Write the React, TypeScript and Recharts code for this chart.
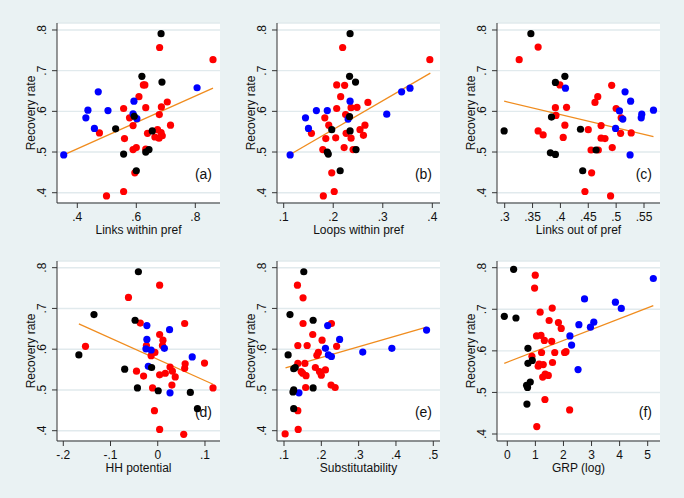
import React from 'react'
import { ScatterChart, Scatter, XAxis, YAxis, CartesianGrid, ReferenceLine, Label } from 'recharts'

// recovery rate vs. six network measures, grouped by colour
const yTicks = [0.4, 0.5, 0.6, 0.7, 0.8]

const aBlack = [[0.684, 0.791], [0.619, 0.686], [0.687, 0.672], [0.593, 0.588], [0.530, 0.557], [0.654, 0.552], [0.557, 0.495], [0.632, 0.500], [0.643, 0.506], [0.600, 0.454]]
const aBlue = [[0.354, 0.493], [0.471, 0.648], [0.436, 0.603], [0.429, 0.584], [0.504, 0.602], [0.458, 0.558], [0.592, 0.625], [0.589, 0.594], [0.602, 0.582], [0.806, 0.658]]
const aRed = [[0.679, 0.757], [0.860, 0.727], [0.624, 0.665], [0.629, 0.665], [0.609, 0.636], [0.705, 0.623], [0.557, 0.607], [0.632, 0.609], [0.685, 0.611], [0.678, 0.592], [0.577, 0.584], [0.589, 0.565], [0.716, 0.566], [0.475, 0.547], [0.638, 0.546], [0.672, 0.555], [0.684, 0.548], [0.663, 0.537], [0.677, 0.534], [0.688, 0.540], [0.560, 0.533], [0.600, 0.511], [0.589, 0.506], [0.632, 0.507], [0.595, 0.449], [0.499, 0.392], [0.557, 0.403]]
const aFit = [[0.354, 0.493], [0.860, 0.657]]

const bBlack = [[0.234, 0.791], [0.233, 0.686], [0.245, 0.672], [0.233, 0.587], [0.197, 0.555], [0.234, 0.552], [0.188, 0.500], [0.190, 0.495], [0.246, 0.506], [0.214, 0.454]]
const bBlue = [[0.113, 0.493], [0.144, 0.584], [0.150, 0.558], [0.166, 0.602], [0.188, 0.602], [0.234, 0.625], [0.230, 0.581], [0.308, 0.593], [0.338, 0.648], [0.355, 0.657]]
const bRed = [[0.219, 0.757], [0.395, 0.727], [0.207, 0.665], [0.223, 0.664], [0.215, 0.636], [0.270, 0.622], [0.207, 0.607], [0.236, 0.609], [0.248, 0.610], [0.225, 0.592], [0.183, 0.584], [0.191, 0.566], [0.264, 0.566], [0.156, 0.546], [0.226, 0.546], [0.254, 0.555], [0.261, 0.541], [0.205, 0.535], [0.236, 0.534], [0.185, 0.533], [0.222, 0.511], [0.179, 0.506], [0.240, 0.506], [0.197, 0.449], [0.180, 0.392], [0.202, 0.403]]
const bFit = [[0.113, 0.494], [0.396, 0.694]]

const cBlack = [[0.347, 0.791], [0.408, 0.686], [0.391, 0.671], [0.384, 0.586], [0.299, 0.552], [0.436, 0.556], [0.382, 0.498], [0.391, 0.494], [0.464, 0.505], [0.440, 0.454]]
const cBlue = [[0.409, 0.657], [0.516, 0.648], [0.526, 0.625], [0.506, 0.601], [0.512, 0.581], [0.567, 0.603], [0.545, 0.584], [0.546, 0.593], [0.499, 0.558], [0.525, 0.493]]
const cRed = [[0.360, 0.758], [0.326, 0.727], [0.399, 0.665], [0.492, 0.664], [0.467, 0.636], [0.462, 0.622], [0.391, 0.609], [0.411, 0.610], [0.500, 0.607], [0.392, 0.590], [0.509, 0.584], [0.408, 0.566], [0.473, 0.565], [0.360, 0.552], [0.450, 0.555], [0.369, 0.542], [0.508, 0.546], [0.527, 0.547], [0.405, 0.536], [0.473, 0.534], [0.480, 0.533], [0.493, 0.511], [0.455, 0.505], [0.468, 0.505], [0.456, 0.449], [0.444, 0.403], [0.490, 0.392]]
const cFit = [[0.299, 0.625], [0.567, 0.538]]

const dBlack = [[-0.041, 0.790], [-0.135, 0.685], [-0.048, 0.671], [-0.167, 0.586], [-0.070, 0.551], [-0.013, 0.555], [-0.043, 0.505], [0.001, 0.498], [0.069, 0.494], [0.084, 0.454]]
const dBlue = [[-0.023, 0.658], [0.025, 0.648], [-0.023, 0.624], [-0.025, 0.601], [-0.014, 0.598], [0.014, 0.602], [0.073, 0.581], [-0.020, 0.558], [0.026, 0.493]]
const dRed = [[0.004, 0.757], [-0.062, 0.727], [-0.037, 0.664], [0.057, 0.663], [0.004, 0.636], [0.011, 0.622], [0.010, 0.609], [-0.153, 0.607], [-0.024, 0.609], [-0.006, 0.592], [-0.014, 0.584], [0.058, 0.564], [0.099, 0.566], [-0.045, 0.546], [0.026, 0.556], [0.031, 0.546], [0.057, 0.553], [-0.030, 0.534], [0.004, 0.537], [0.016, 0.541], [0.037, 0.532], [0.030, 0.512], [-0.011, 0.505], [0.117, 0.505], [-0.007, 0.449], [0.004, 0.403], [0.055, 0.391]]
const dFit = [[-0.167, 0.662], [0.117, 0.514]]

const eBlack = [[0.153, 0.790], [0.116, 0.685], [0.178, 0.671], [0.111, 0.586], [0.126, 0.552], [0.130, 0.555], [0.178, 0.505], [0.124, 0.495], [0.126, 0.500], [0.126, 0.454]]
const eBlue = [[0.140, 0.493], [0.217, 0.658], [0.249, 0.624], [0.211, 0.602], [0.219, 0.586], [0.227, 0.582], [0.311, 0.593], [0.389, 0.602], [0.482, 0.647]]
const eRed = [[0.136, 0.757], [0.151, 0.726], [0.151, 0.663], [0.227, 0.663], [0.177, 0.636], [0.202, 0.622], [0.137, 0.609], [0.162, 0.609], [0.241, 0.607], [0.192, 0.592], [0.188, 0.585], [0.137, 0.565], [0.156, 0.565], [0.184, 0.555], [0.146, 0.545], [0.211, 0.549], [0.195, 0.545], [0.150, 0.541], [0.159, 0.535], [0.200, 0.536], [0.226, 0.512], [0.237, 0.506], [0.158, 0.506], [0.137, 0.449], [0.138, 0.403], [0.103, 0.392]]
const eFit = [[0.104, 0.554], [0.482, 0.654]]

const fBlack = [[0.225, 0.796], [-0.107, 0.683], [0.308, 0.679], [0.735, 0.606], [0.735, 0.570], [0.889, 0.577], [0.818, 0.525], [0.687, 0.517], [0.720, 0.512], [0.699, 0.472]]
const fBlue = [[5.20, 0.774], [2.75, 0.725], [3.85, 0.717], [4.06, 0.702], [2.55, 0.663], [3.08, 0.669], [2.96, 0.657], [2.23, 0.636], [2.29, 0.614], [2.52, 0.555]]
const fRed = [[0.995, 0.782], [0.972, 0.751], [1.17, 0.693], [1.60, 0.703], [1.49, 0.673], [1.82, 0.668], [1.92, 0.654], [1.04, 0.636], [1.20, 0.637], [1.32, 0.625], [1.58, 0.623], [1.22, 0.596], [1.69, 0.596], [2.04, 0.596], [2.09, 0.598], [0.877, 0.587], [1.13, 0.568], [1.28, 0.567], [1.10, 0.563], [1.61, 0.572], [1.26, 0.537], [1.35, 0.544], [1.46, 0.541], [1.34, 0.483], [2.22, 0.458], [1.05, 0.418]]
const fFit = [[-0.107, 0.570], [5.20, 0.709]]

const FONT = '"Liberation Sans", Arial, sans-serif'
const BG = '#EAF2F3'

const toPts = (rows: number[][]) => rows.map(([x, y]) => ({ x, y }))

// stata style: drop the leading zero
const fmt = (v: number) => {
  if (v === 0) return '0'
  const s = String(Math.abs(v)).replace(/^0/, '')
  return (v < 0 ? '-' : '') + s
}

const XTick = (props: any) => {
  const { x, y, payload } = props
  return (
    <text x={x} y={y + 10.5} textAnchor="middle" fontSize={12} fontFamily={FONT} fill="#111">
      {fmt(payload.value)}
    </text>
  )
}

const YTick = (props: any) => {
  const { x, y, payload } = props
  const bx = x - 4
  return (
    <text x={bx} y={y} transform={`rotate(-90 ${bx} ${y})`} textAnchor="middle" fontSize={12} fontFamily={FONT} fill="#111">
      {fmt(payload.value)}
    </text>
  )
}

const dot = (color: string) => (p: any) => <circle cx={p.cx} cy={p.cy} r={3.6} fill={color} />

interface PanelProps {
  left: number
  top: number
  xDomain: number[]
  yDomain: number[]
  xTicks: number[]
  xLabel: string
  letter: string
  red: number[][]
  blue: number[][]
  black: number[][]
  fit: number[][]
}

function Panel({ left, top, xDomain, yDomain, xTicks, xLabel, letter, red, blue, black, fit }: PanelProps) {
  return (
    <div style={{ position: 'absolute', left: left - 57, top: top - 23 }}>
      <ScatterChart width={228} height={249} margin={{ top: 23, right: 8, bottom: 0, left: 0 }}>
        <CartesianGrid vertical={false} fill="#ffffff" fillOpacity={1} stroke="#E1EAED" strokeWidth={1.4} />
        <XAxis
          type="number"
          dataKey="x"
          domain={xDomain}
          allowDataOverflow
          ticks={xTicks}
          interval={0}
          height={46}
          tickSize={5}
          tickMargin={2}
          stroke="#333"
          tick={<XTick />}
        >
          <Label
            content={(p: any) => (
              <text x={p.viewBox.x + p.viewBox.width / 2} y={p.viewBox.y + 31} textAnchor="middle" fontSize={12} fontFamily={FONT} fill="#111">
                {xLabel}
              </text>
            )}
          />
          <Label
            content={(p: any) => (
              <text x={p.viewBox.x + p.viewBox.width - 8} y={p.viewBox.y - 24} textAnchor="end" fontSize={14} fontFamily={FONT} fill="#111">
                {letter}
              </text>
            )}
          />
        </XAxis>
        <YAxis
          type="number"
          dataKey="y"
          domain={yDomain}
          allowDataOverflow
          ticks={yTicks}
          interval={0}
          width={57}
          tickSize={5}
          tickMargin={2}
          stroke="#333"
          tick={<YTick />}
        >
          <Label
            content={(p: any) => {
              const bx = p.viewBox.x + p.viewBox.width - 22
              const cy = p.viewBox.y + p.viewBox.height / 2
              return (
                <text x={bx} y={cy} transform={`rotate(-90 ${bx} ${cy})`} textAnchor="middle" fontSize={12} fontFamily={FONT} fill="#111">
                  Recovery rate
                </text>
              )
            }}
          />
        </YAxis>
        <Scatter data={toPts(red)} fill="#FF0000" shape={dot('#FF0000')} isAnimationActive={false} />
        <Scatter data={toPts(blue)} fill="#0000FF" shape={dot('#0000FF')} isAnimationActive={false} />
        <Scatter data={toPts(black)} fill="#000000" shape={dot('#000000')} isAnimationActive={false} />
        <ReferenceLine segment={toPts(fit)} stroke="#F08C1E" strokeWidth={1.3} ifOverflow="visible" />
      </ScatterChart>
    </div>
  )
}

export default function App() {
  return (
    <div style={{ position: 'absolute', left: 0, top: 0, width: 684, height: 498, background: BG, overflow: 'hidden' }}>
      <Panel left={57} top={23} xDomain={[0.3312, 0.8837]} yDomain={[0.3747, 0.8172]} xTicks={[0.4, 0.6, 0.8]} xLabel="Links within pref" letter="(a)" red={aRed} blue={aBlue} black={aBlack} fit={aFit} />
      <Panel left={277} top={23} xDomain={[0.0865, 0.4155]} yDomain={[0.3747, 0.8172]} xTicks={[0.1, 0.2, 0.3, 0.4]} xLabel="Loops within pref" letter="(b)" red={bRed} blue={bBlue} black={bBlack} fit={bFit} />
      <Panel left={497} top={23} xDomain={[0.2862, 0.5787]} yDomain={[0.3747, 0.8172]} xTicks={[0.3, 0.35, 0.4, 0.45, 0.5, 0.55]} xLabel="Links out of pref" letter="(c)" red={cRed} blue={cBlue} black={cBlack} fit={cFit} />
      <Panel left={57} top={261} xDomain={[-0.2133, 0.1318]} yDomain={[0.3747, 0.8164]} xTicks={[-0.2, -0.1, 0, 0.1]} xLabel="HH potential" letter="(d)" red={dRed} blue={dBlue} black={dBlack} fit={dFit} />
      <Panel left={277} top={261} xDomain={[0.0812, 0.518]} yDomain={[0.3747, 0.8164]} xTicks={[0.1, 0.2, 0.3, 0.4, 0.5]} xLabel="Substitutability" letter="(e)" red={eRed} blue={eBlue} black={eBlack} fit={eFit} />
      <Panel left={497} top={261} xDomain={[-0.367, 5.438]} yDomain={[0.3832, 0.8161]} xTicks={[0, 1, 2, 3, 4, 5]} xLabel="GRP (log)" letter="(f)" red={fRed} blue={fBlue} black={fBlack} fit={fFit} />
    </div>
  )
}
